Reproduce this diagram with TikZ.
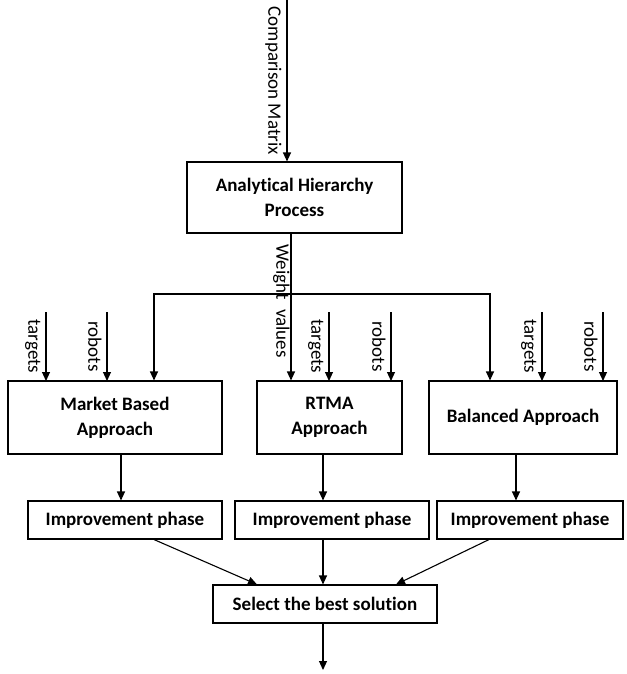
\documentclass[tikz,border=0pt]{standalone}
\usepackage{fontspec}
\setmainfont[Ligatures=NoCommon]{Carlito}
\usetikzlibrary{arrows.meta}
\begin{document}
\begin{tikzpicture}[x=1pt,y=-1pt,line width=1.1pt,
        >={Triangle[length=9pt,width=8pt]},
        box/.style={draw,inner sep=0pt,align=center,font=\bfseries\fontsize{19}{25}\selectfont},
        lab/.style={rotate=-90,anchor=north,inner sep=5pt,font=\fontsize{19}{22}\selectfont}]
        \useasboundingbox (0,0) rectangle (626,674);
        \node[box,minimum width=215pt,minimum height=71pt] (ahp) at (294.5,197.5) {Analytical Hierarchy\\Process};
        \node[box,minimum width=214pt,minimum height=73pt] (mba) at (115,417.5) {Market Based\\Approach};
        \node[box,minimum width=145pt,minimum height=73pt] (rtma) at (329.5,417.5) {RTMA\\Approach};
        \node[box,minimum width=188pt,minimum height=73pt] (bal) at (523,417.5) {Balanced Approach};
        \node[box,minimum width=194pt,minimum height=38pt] (imp1) at (125,520) {Improvement phase};
        \node[box,minimum width=194pt,minimum height=38pt] (imp2) at (332,520) {Improvement phase};
        \node[box,minimum width=186pt,minimum height=38pt] (imp3) at (530,520) {Improvement phase};
        \node[box,minimum width=224pt,minimum height=38pt] (best) at (325,604) {Select the best solution};
        % inputs
        \coordinate (cm) at (287,0);
        \coordinate (split) at (291,294);
        \coordinate (out) at (323,670);
        \draw[->] (cm) -- (cm |- ahp.north) node [lab,midway] {Comparison Matrix};
        \draw[->] (split |- ahp.south) -- (split |- rtma.north) node [lab,pos=0.46,inner sep=1pt] {Weight\hspace{0.5em}values};
        \draw[->] (split) -| ([xshift=39pt]mba.north);
        \draw[->] (split) -| ([xshift=-33pt]bal.north);
        \foreach \x/\t in {46/targets,107/robots,329/targets,391/robots,542/targets,603/robots}
            \draw[->] (\x,312) -- (\x,381) node [lab,midway] {\t};
        % outputs
        \draw[->] ([xshift=6pt]mba.south) -- ([xshift=-4pt]imp1.north);
        \draw[->] ([xshift=-6.5pt]rtma.south) -- ([xshift=-9pt]imp2.north);
        \draw[->] ([xshift=-7pt]bal.south) -- ([xshift=-14pt]imp3.north);
        \draw[->] ([xshift=29pt]imp1.south) -- ([xshift=-68pt]best.north);
        \draw[->] ([xshift=-9pt]imp2.south) -- ([xshift=-2pt]best.north);
        \draw[->] ([xshift=-41pt]imp3.south) -- ([xshift=71pt]best.north);
        \draw[->] (out |- best.south) -- (out);
\end{tikzpicture}
\end{document}
